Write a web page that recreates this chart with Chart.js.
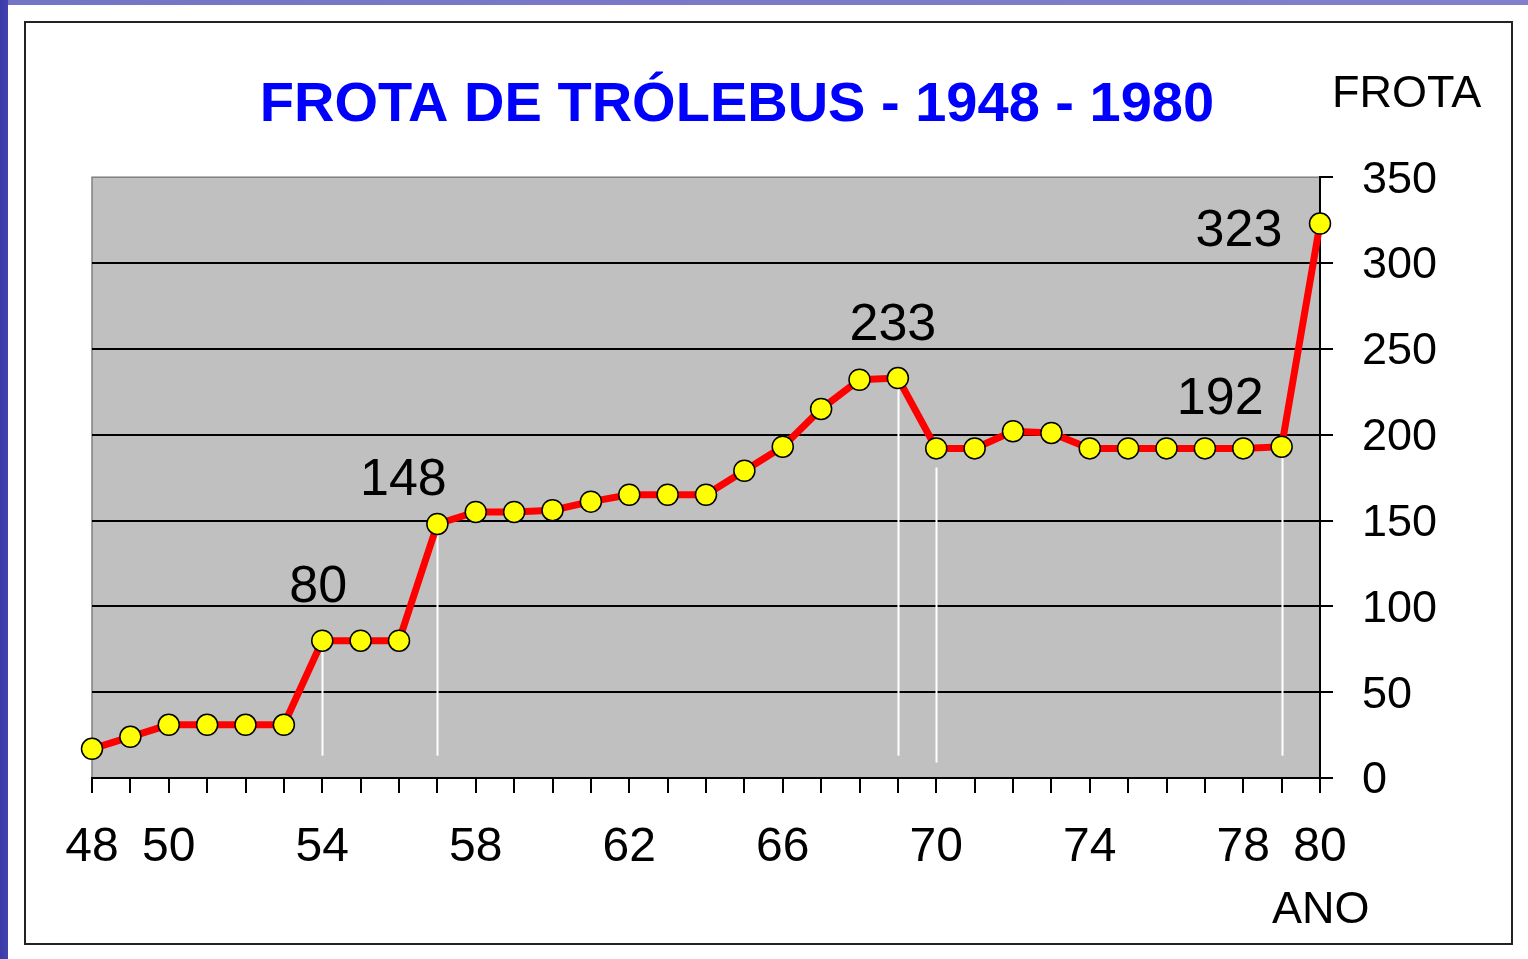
<!DOCTYPE html>
<html>
<head>
<meta charset="utf-8">
<script src="https://cdn.jsdelivr.net/npm/chart.js@4.4.1/dist/chart.umd.min.js"></script>
<style>
  html, body { margin: 0; padding: 0; width: 1528px; height: 959px; overflow: hidden; }
  body { background: linear-gradient(to right, #3a3aa8 0, #4444b0 8px, #7474c6 8px, #8080cc 100%); position: relative; }
  #paper { position: absolute; left: 8px; top: 5px; right: 0; bottom: 0; background: #ffffff; }
  #frame { position: absolute; left: 24px; top: 21px; width: 1489px; height: 924px; box-sizing: border-box; border: 2px solid #222; }
  canvas { position: absolute; left: 0; top: 0; }
</style>
</head>
<body>
<div id="paper"></div>
<div id="frame"></div>
<canvas id="c" width="1528" height="959"></canvas>
<script>
// ---- data ----
const years = [48,49,50,51,52,53,54,55,56,57,58,59,60,61,62,63,64,65,66,67,68,69,70,71,72,73,74,75,76,77,78,79,80];
const fleet = [17,24,31,31,31,31,80,80,80,148,155,155,156,161,165,165,165,179,193,215,232,233,192,192,202,201,192,192,192,192,192,193,323];
const xTickLabels = [48,50,54,58,62,66,70,74,78,80];
const yMin = 0, yMax = 350, yStep = 50;
const labeledYears = [54,57,69,78,80];
const dropLineYears = [54,57,69,70,79];
const titleText = 'FROTA DE TRÓLEBUS - 1948 - 1980';
const yAxisName = 'FROTA';
const xAxisName = 'ANO';

const FONT = "'Liberation Sans', Arial, sans-serif";

// label placement relative to the point (style)
const labelOffsets = {54: [-4, -39], 57: [-34, -29], 69: [-5, -38], 78: [-23, -34], 80: [-81, 22]};
// drop lines: gap below point and bottom value (style)
const dropStyle = {54: [10, 13], 57: [10, 13], 69: [10, 13], 70: [19, 9], 79: [10, 13]};

const decor = {
  id: 'decor',
  beforeDraw(chart) {
    const {ctx, chartArea: a} = chart;
    ctx.save();
    ctx.fillStyle = '#C0C0C0';
    ctx.fillRect(a.left, a.top, a.right - a.left, a.bottom - a.top);
    ctx.strokeStyle = '#808080';
    ctx.lineWidth = 1.5;
    ctx.strokeRect(a.left, a.top, a.right - a.left, a.bottom - a.top);
    ctx.restore();
  },
  beforeDatasetsDraw(chart) {
    const {ctx} = chart;
    const meta = chart.getDatasetMeta(0);
    const ys = chart.scales.y;
    ctx.save();
    ctx.strokeStyle = '#FFFFFF';
    ctx.lineWidth = 2;
    dropLineYears.forEach(yr => {
      const i = years.indexOf(yr);
      const p = meta.data[i];
      const st = dropStyle[yr];
      ctx.beginPath();
      ctx.moveTo(Math.round(p.x) + 0.5, p.y + st[0]);
      ctx.lineTo(Math.round(p.x) + 0.5, ys.getPixelForValue(st[1]));
      ctx.stroke();
    });
    ctx.restore();
  },
  afterDatasetsDraw(chart) {
    const {ctx} = chart;
    const meta = chart.getDatasetMeta(0);
    ctx.save();
    ctx.fillStyle = '#000';
    ctx.font = '52px ' + FONT;
    ctx.textAlign = 'center';
    ctx.textBaseline = 'alphabetic';
    labeledYears.forEach(yr => {
      const i = years.indexOf(yr);
      const p = meta.data[i];
      const o = labelOffsets[yr];
      ctx.fillText(String(fleet[i]), p.x + o[0], p.y + o[1]);
    });
    ctx.font = '45px ' + FONT;
    ctx.textAlign = 'left';
    ctx.fillText(yAxisName, 1332, 107);
    ctx.fillText(xAxisName, 1272, 923);
    ctx.restore();
  }
};

new Chart(document.getElementById('c'), {
  type: 'line',
  data: {
    labels: years,
    datasets: [{
      data: fleet,
      borderColor: '#FF0000',
      borderWidth: 7,
      tension: 0,
      pointRadius: 10.5,
      pointHoverRadius: 10.5,
      pointBackgroundColor: '#FFFF00',
      pointBorderColor: '#000000',
      pointBorderWidth: 1.5,
      clip: false
    }]
  },
  options: {
    responsive: false,
    animation: false,
    events: [],
    layout: { padding: { left: 0, right: 54, top: 69, bottom: 81 } },
    plugins: {
      legend: { display: false },
      tooltip: { enabled: false },
      title: {
        display: true,
        text: titleText,
        color: '#0000FF',
        font: { family: FONT, size: 56, weight: 'bold', lineHeight: 1.2 },
        padding: { top: 3, bottom: 38 }
      }
    },
    scales: {
      x: {
        type: 'category',
        offset: false,
        afterFit(s) { s.height = 100; },
        grid: { drawOnChartArea: false, drawTicks: true, tickLength: 15, tickColor: '#000', lineWidth: 2, color: '#000' },
        border: { display: true, color: '#000', width: 2 },
        ticks: {
          autoSkip: false, maxRotation: 0, minRotation: 0, padding: 26,
          color: '#000',
          font: { family: FONT, size: 48 },
          callback(v, i) { return xTickLabels.includes(years[i]) ? String(years[i]) : ''; }
        }
      },
      yLeftSpace: {
        type: 'linear',
        position: 'left',
        afterFit(s) { s.width = 92; },
        grid: { display: false },
        border: { display: false },
        ticks: { display: false }
      },
      y: {
        position: 'right',
        min: yMin, max: yMax,
        afterFit(s) { s.width = 154; },
        grid: {
          drawTicks: true, tickLength: 13, tickColor: '#000', lineWidth: 2,
          color(ctx) { return ctx.tick && ctx.tick.value === yMax ? 'rgba(0,0,0,0)' : '#000'; }
        },
        border: { display: true, color: '#000', width: 2 },
        ticks: {
          stepSize: yStep, padding: 29, color: '#000', labelOffset: 3,
          font: { family: FONT, size: 45 },
          crossAlign: 'near'
        }
      }
    }
  },
  plugins: [decor]
});
</script>
</body>
</html>
